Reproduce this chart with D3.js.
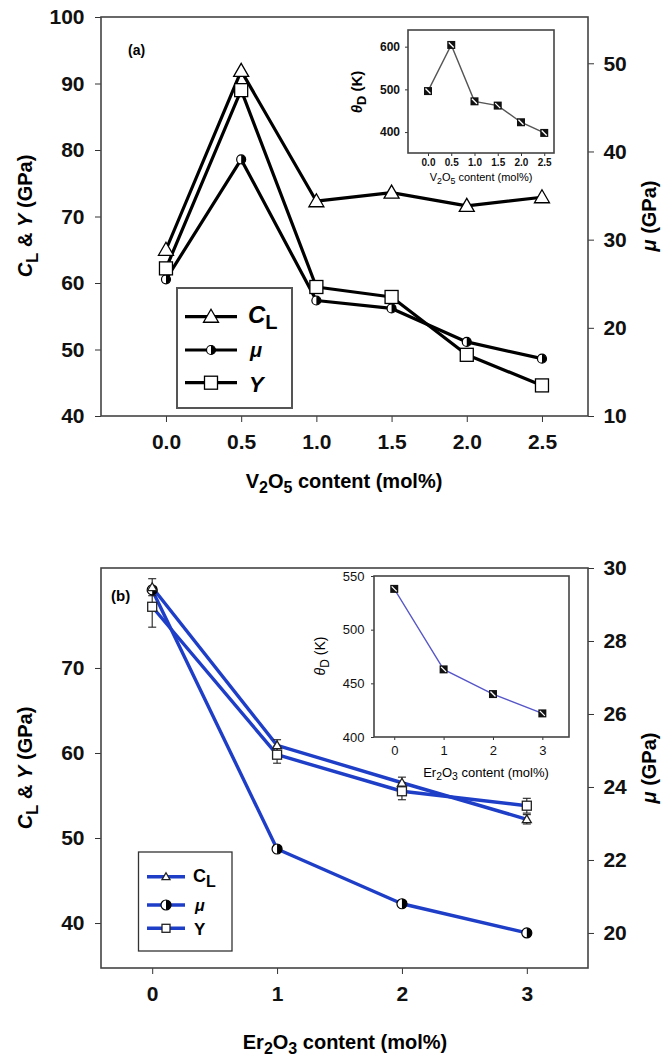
<!DOCTYPE html>
<html><head><meta charset="utf-8">
<script src="https://cdn.jsdelivr.net/npm/d3@7"></script>
<style>
html,body{margin:0;padding:0;background:#fff;}
svg{display:block;}
text{font-family:"Liberation Sans",Arial,sans-serif;}
</style></head>
<body>
<svg id="c" width="668" height="1059"></svg>
<script>
// ---------- DATA ----------
const xA = [0, 0.5, 1.0, 1.5, 2.0, 2.5];
const clA = [65.0, 91.9, 72.3, 73.6, 71.6, 72.9];
const yA = [62.2, 89.0, 59.4, 57.9, 49.2, 44.6];
const muA = [25.5, 39.1, 23.1, 22.2, 18.4, 16.5];
const thetaA = [496, 604, 472, 462, 423, 398];

const xB = [0, 1, 2, 3];
const clB = [79.5, 60.9, 56.5, 52.2];
const clBErr = [1.0, 0.66, 0.66, 0.55];
const yB = [77.2, 59.8, 55.5, 53.8];
const yBErr = [2.4, 1.0, 1.0, 0.87];
const muB = [29.4, 22.3, 20.8, 20.0];
const thetaB = [538, 463, 440, 422];

const ticksAx = [0, 0.5, 1.0, 1.5, 2.0, 2.5];
const ticksAl = [40, 50, 60, 70, 80, 90, 100];
const ticksAr = [10, 20, 30, 40, 50];
const ticksAinY = [400, 500, 600];
const ticksBx = [0, 1, 2, 3];
const ticksBl = [40, 50, 60, 70];
const ticksBr = [20, 22, 24, 26, 28, 30];
const ticksBinY = [400, 450, 500, 550];

// ---------- HELPERS ----------
const svg = d3.select("#c");
const BLUE = "#1e3ec8";

function frame(g, x, yl, yr, box, tickSize, fontSize, fontWeight, xt, ylt, yrt, fmt, xpad) {
  const gx = g.append("g").attr("transform", `translate(0,${box.b})`)
    .call(d3.axisBottom(x).tickValues(xt).tickSize(tickSize).tickPadding(xpad).tickFormat(fmt));
  const gl = g.append("g").attr("transform", `translate(${box.l},0)`)
    .call(d3.axisLeft(yl).tickValues(ylt).tickSize(tickSize).tickPadding(fontSize*0.5));
  [gx, gl].forEach(a => {
    a.select(".domain").remove();
    a.selectAll("line").attr("stroke", "#333");
    a.selectAll("text").attr("font-size", fontSize).attr("font-weight", fontWeight).attr("fill", "#111");
  });
  if (yr) {
    const gr = g.append("g").attr("transform", `translate(${box.r},0)`)
      .call(d3.axisRight(yr).tickValues(yrt).tickSize(tickSize).tickPadding(fontSize*0.45));
    gr.select(".domain").remove();
    gr.selectAll("line").attr("stroke", "#333");
    gr.selectAll("text").attr("font-size", fontSize).attr("font-weight", fontWeight).attr("fill", "#111");
  }
  g.append("rect").attr("x", box.l).attr("y", box.t).attr("width", box.r - box.l).attr("height", box.b - box.t)
    .attr("fill", "none").attr("stroke", "#444").attr("stroke-width", 1.6);
}

function tri(g, cx, cy, s, stroke) {
  g.append("path").attr("d", d3.symbol(d3.symbolTriangle, s * s * 0.433)())
    .attr("transform", `translate(${cx},${cy + s * 0.08})`).attr("fill", "#fff").attr("stroke", stroke).attr("stroke-width", 1.3);
}
function sq(g, cx, cy, s, stroke) {
  g.append("rect").attr("x", cx - s / 2).attr("y", cy - s / 2).attr("width", s).attr("height", s)
    .attr("fill", "#fff").attr("stroke", stroke).attr("stroke-width", 1.3);
}
function half(g, cx, cy, r) {
  g.append("circle").attr("cx", cx).attr("cy", cy).attr("r", r).attr("fill", "#fff").attr("stroke", "#000").attr("stroke-width", 1.2);
  g.append("path").attr("d", `M${cx},${cy - r} A${r},${r} 0 0 1 ${cx},${cy + r} Z`).attr("fill", "#000");
}
function insetMark(g, cx, cy, s) {
  g.append("rect").attr("x", cx - s / 2).attr("y", cy - s / 2).attr("width", s).attr("height", s).attr("fill", "#111");
  g.append("line").attr("x1", cx - s / 2 + 1.5).attr("y1", cy - s / 2 + 1.5).attr("x2", cx + s / 2 - 1.5).attr("y2", cy + s / 2 - 1.5)
    .attr("stroke", "#fff").attr("stroke-width", 1.3);
}
function yTitle(g, x, y, size) {
  const t = g.append("text").attr("transform", `translate(${x},${y}) rotate(-90)`).attr("text-anchor", "middle")
    .attr("font-size", size).attr("font-weight", "bold");
  t.append("tspan").attr("font-style", "italic").text("C");
  t.append("tspan").attr("dy", size * 0.28).attr("font-size", size * 0.85).text("L");
  t.append("tspan").attr("dy", -size * 0.28).text(" & ");
  t.append("tspan").attr("font-style", "italic").text("Y");
  t.append("tspan").text(" (GPa)");
}
function muTitle(g, x, y, size) {
  const t = g.append("text").attr("transform", `translate(${x},${y}) rotate(-90)`).attr("text-anchor", "middle")
    .attr("font-size", size).attr("font-weight", "bold");
  t.append("tspan").attr("font-style", "italic").text("μ");
  t.append("tspan").text(" (GPa)");
}
function xTitle(g, x, y, size, a, an, b, bn, rest, weight) {
  const t = g.append("text").attr("x", x).attr("y", y).attr("text-anchor", "middle")
    .attr("font-size", size).attr("font-weight", weight);
  t.append("tspan").text(a);
  t.append("tspan").attr("dy", size * 0.25).attr("font-size", size * 0.8).text(an);
  t.append("tspan").attr("dy", -size * 0.25).text(b);
  t.append("tspan").attr("dy", size * 0.25).attr("font-size", size * 0.8).text(bn);
  t.append("tspan").attr("dy", -size * 0.25).text(rest);
}
function thetaLabel(g, x, y, size, weight) {
  const t = g.append("text").attr("transform", `translate(${x},${y}) rotate(-90)`).attr("text-anchor", "middle")
    .attr("font-size", size).attr("font-weight", weight);
  t.append("tspan").attr("font-style", "italic").text("θ");
  t.append("tspan").attr("dy", size * 0.28).attr("font-size", size * 0.85).text("D");
  t.append("tspan").attr("dy", -size * 0.28).text(" (K)");
}

// ================= CHART (a) =================
const boxA = { l: 101, r: 588, t: 17, b: 416 };
const gA = svg.append("g");
const xa = d3.scaleLinear().domain([-0.432, 2.806]).range([boxA.l, boxA.r]);
const yaL = d3.scaleLinear().domain([40, 100]).range([boxA.b, boxA.t]);
const yaR = d3.scaleLinear().domain([10, 55.25]).range([boxA.b, boxA.t]);
frame(gA, xa, yaL, yaR, boxA, 6, 21, "bold", ticksAx, ticksAl, ticksAr, d3.format(".1f"), 12);

const lineAL = d3.line().x(d => xa(d[0])).y(d => yaL(d[1]));
const lineAR = d3.line().x(d => xa(d[0])).y(d => yaR(d[1]));
const dCL = xA.map((x, i) => [x, clA[i]]);
const dY = xA.map((x, i) => [x, yA[i]]);
const dMu = xA.map((x, i) => [x, muA[i]]);
[ [dCL, lineAL], [dY, lineAL], [dMu, lineAR] ].forEach(([d, ln]) =>
  gA.append("path").attr("d", ln(d)).attr("fill", "none").attr("stroke", "#000").attr("stroke-width", 3.2).attr("stroke-linejoin", "round"));
dMu.forEach(d => half(gA, xa(d[0]), yaR(d[1]), 4.5));
dY.forEach(d => sq(gA, xa(d[0]), yaL(d[1]), 13, "#000"));
dCL.forEach(d => tri(gA, xa(d[0]), yaL(d[1]), 15, "#000"));

gA.append("text").attr("x", 128).attr("y", 55).attr("font-size", 14).attr("font-weight", "bold").text("(a)");
yTitle(gA, 32, 216, 20);
muTitle(gA, 656, 216, 20);
xTitle(gA, 344, 488, 20, "V", "2", "O", "5", " content (mol%)", "bold");

// legend (a)
const legA = gA.append("g");
legA.append("rect").attr("x", 177).attr("y", 288).attr("width", 115).attr("height", 120)
  .attr("fill", "#fff").attr("stroke", "#555").attr("stroke-width", 2);
const legRowsA = [316.7, 350, 382.7];
legRowsA.forEach(y => legA.append("line").attr("x1", 185).attr("x2", 237).attr("y1", y).attr("y2", y).attr("stroke", "#000").attr("stroke-width", 3.2));
tri(legA, 211, legRowsA[0], 15, "#000");
half(legA, 211, legRowsA[1], 4.5);
sq(legA, 211, legRowsA[2], 13, "#000");
{
  const t = legA.append("text").attr("x", 248).attr("y", legRowsA[0] + 6).attr("font-size", 24).attr("font-weight", "bold");
  t.append("tspan").attr("font-style", "italic").text("C");
  t.append("tspan").attr("dy", 6).attr("font-size", 20).text("L");
  legA.append("text").attr("x", 250).attr("y", legRowsA[1] + 7).attr("font-size", 20).attr("font-weight", "bold").attr("font-style", "italic").text("μ");
  legA.append("text").attr("x", 249).attr("y", legRowsA[2] + 9).attr("font-size", 22).attr("font-weight", "bold").attr("font-style", "italic").text("Y");
}

// inset (a)
const boxAi = { l: 408, r: 554, t: 30, b: 153 };
const gAi = svg.append("g");
gAi.append("rect").attr("x", boxAi.l).attr("y", boxAi.t).attr("width", boxAi.r - boxAi.l).attr("height", boxAi.b - boxAi.t).attr("fill", "#fff");
const xai = d3.scaleLinear().domain([-0.43, 2.71]).range([boxAi.l, boxAi.r]);
const yai = d3.scaleLinear().domain([351, 639]).range([boxAi.b, boxAi.t]);
frame(gAi, xai, yai, null, boxAi, 3, 10, "bold", ticksAx, ticksAinY, null, d3.format(".1f"), 3);
gAi.selectAll("g text").filter(function(){ return this.parentNode && d3.select(this.parentNode.parentNode).attr("transform") && d3.select(this.parentNode.parentNode).attr("transform").indexOf(`translate(${boxAi.l}`) === 0; }).attr("font-size", 12);
const dTA = xA.map((x, i) => [x, thetaA[i]]);
gAi.append("path").attr("d", d3.line().x(d => xai(d[0])).y(d => yai(d[1]))(dTA)).attr("fill", "none").attr("stroke", "#555").attr("stroke-width", 1.4);
dTA.forEach(d => insetMark(gAi, xai(d[0]), yai(d[1]), 8));
xTitle(gAi, 481, 181, 11, "V", "2", "O", "5", " content (mol%)", "normal");
thetaLabel(gAi, 362, 92, 15, "bold");

// ================= CHART (b) =================
const boxB = { l: 101, r: 588, t: 568, b: 968 };
const gB = svg.append("g");
const xb = d3.scaleLinear().domain([-0.41, 3.49]).range([boxB.l, boxB.r]);
const ybL = d3.scaleLinear().domain([34.71, 81.76]).range([boxB.b, boxB.t]);
const ybR = d3.scaleLinear().domain([19.04, 30]).range([boxB.b, boxB.t]);
frame(gB, xb, ybL, ybR, boxB, 6, 21, "bold", ticksBx, ticksBl, ticksBr, d3.format("d"), 12);

const lineBL = d3.line().x(d => xb(d[0])).y(d => ybL(d[1]));
const lineBR = d3.line().x(d => xb(d[0])).y(d => ybR(d[1]));
const bCL = xB.map((x, i) => [x, clB[i], clBErr[i]]);
const bY = xB.map((x, i) => [x, yB[i], yBErr[i]]);
const bMu = xB.map((x, i) => [x, muB[i]]);
[ [bCL, lineBL], [bY, lineBL], [bMu, lineBR] ].forEach(([d, ln]) =>
  gB.append("path").attr("d", ln(d)).attr("fill", "none").attr("stroke", BLUE).attr("stroke-width", 3.4).attr("stroke-linejoin", "round"));
function errBar(g, cx, y1, y2) {
  g.append("line").attr("x1", cx).attr("x2", cx).attr("y1", y1).attr("y2", y2).attr("stroke", "#222").attr("stroke-width", 1.1);
  [y1, y2].forEach(y => g.append("line").attr("x1", cx - 4).attr("x2", cx + 4).attr("y1", y).attr("y2", y).attr("stroke", "#222").attr("stroke-width", 1.1));
}
bY.forEach(d => errBar(gB, xb(d[0]), ybL(d[1] - d[2]), ybL(d[1] + d[2])));
bCL.forEach(d => errBar(gB, xb(d[0]), ybL(d[1] - d[2]), ybL(d[1] + d[2])));
bMu.forEach(d => half(gB, xb(d[0]), ybR(d[1]), 5));
bY.forEach(d => sq(gB, xb(d[0]), ybL(d[1]), 9, "#222"));
bCL.forEach(d => tri(gB, xb(d[0]), ybL(d[1]), 9, "#222"));

gB.append("text").attr("x", 111).attr("y", 601).attr("font-size", 15).attr("font-weight", "bold").text("(b)");
yTitle(gB, 32, 768, 20);
muTitle(gB, 656, 768, 20);
xTitle(gB, 345, 1049, 20, "Er", "2", "O", "3", " content (mol%)", "bold");

// legend (b)
const legB = gB.append("g");
legB.append("rect").attr("x", 138.5).attr("y", 852).attr("width", 93.5).attr("height", 99)
  .attr("fill", "#fff").attr("stroke", "#333").attr("stroke-width", 1.3);
const legRowsB = [876.7, 905, 928.3];
legRowsB.forEach(y => legB.append("line").attr("x1", 147).attr("x2", 185).attr("y1", y).attr("y2", y).attr("stroke", BLUE).attr("stroke-width", 3.4));
tri(legB, 166, legRowsB[0], 8, "#222");
half(legB, 166, legRowsB[1], 5);
sq(legB, 166, legRowsB[2], 8, "#222");
{
  const t = legB.append("text").attr("x", 193).attr("y", legRowsB[0] + 5).attr("font-size", 18).attr("font-weight", "bold");
  t.append("tspan").text("C");
  t.append("tspan").attr("dy", 5).attr("font-size", 16).text("L");
  legB.append("text").attr("x", 195).attr("y", legRowsB[1] + 6).attr("font-size", 16).attr("font-weight", "bold").attr("font-style", "italic").text("μ");
  legB.append("text").attr("x", 194).attr("y", legRowsB[2] + 7).attr("font-size", 17).attr("font-weight", "bold").text("Y");
}

// inset (b)
const boxBi = { l: 374, r: 569, t: 576, b: 737 };
const gBi = svg.append("g");
gBi.append("rect").attr("x", boxBi.l).attr("y", boxBi.t).attr("width", boxBi.r - boxBi.l).attr("height", boxBi.b - boxBi.t).attr("fill", "#fff");
const xbi = d3.scaleLinear().domain([-0.41, 3.54]).range([boxBi.l, boxBi.r]);
const ybi = d3.scaleLinear().domain([400, 550]).range([boxBi.b, boxBi.t]);
frame(gBi, xbi, ybi, null, boxBi, 3, 13, "normal", ticksBx, ticksBinY, null, d3.format("d"), 6);
const dTB = xB.map((x, i) => [x, thetaB[i]]);
gBi.append("path").attr("d", d3.line().x(d => xbi(d[0])).y(d => ybi(d[1]))(dTB)).attr("fill", "none").attr("stroke", "#5656c8").attr("stroke-width", 1.3);
dTB.forEach(d => insetMark(gBi, xbi(d[0]), ybi(d[1]), 8));
xTitle(gBi, 486, 777, 13, "Er", "2", "O", "3", " content (mol%)", "normal");
thetaLabel(gBi, 325, 656, 14, "normal");
</script>
</body></html>
